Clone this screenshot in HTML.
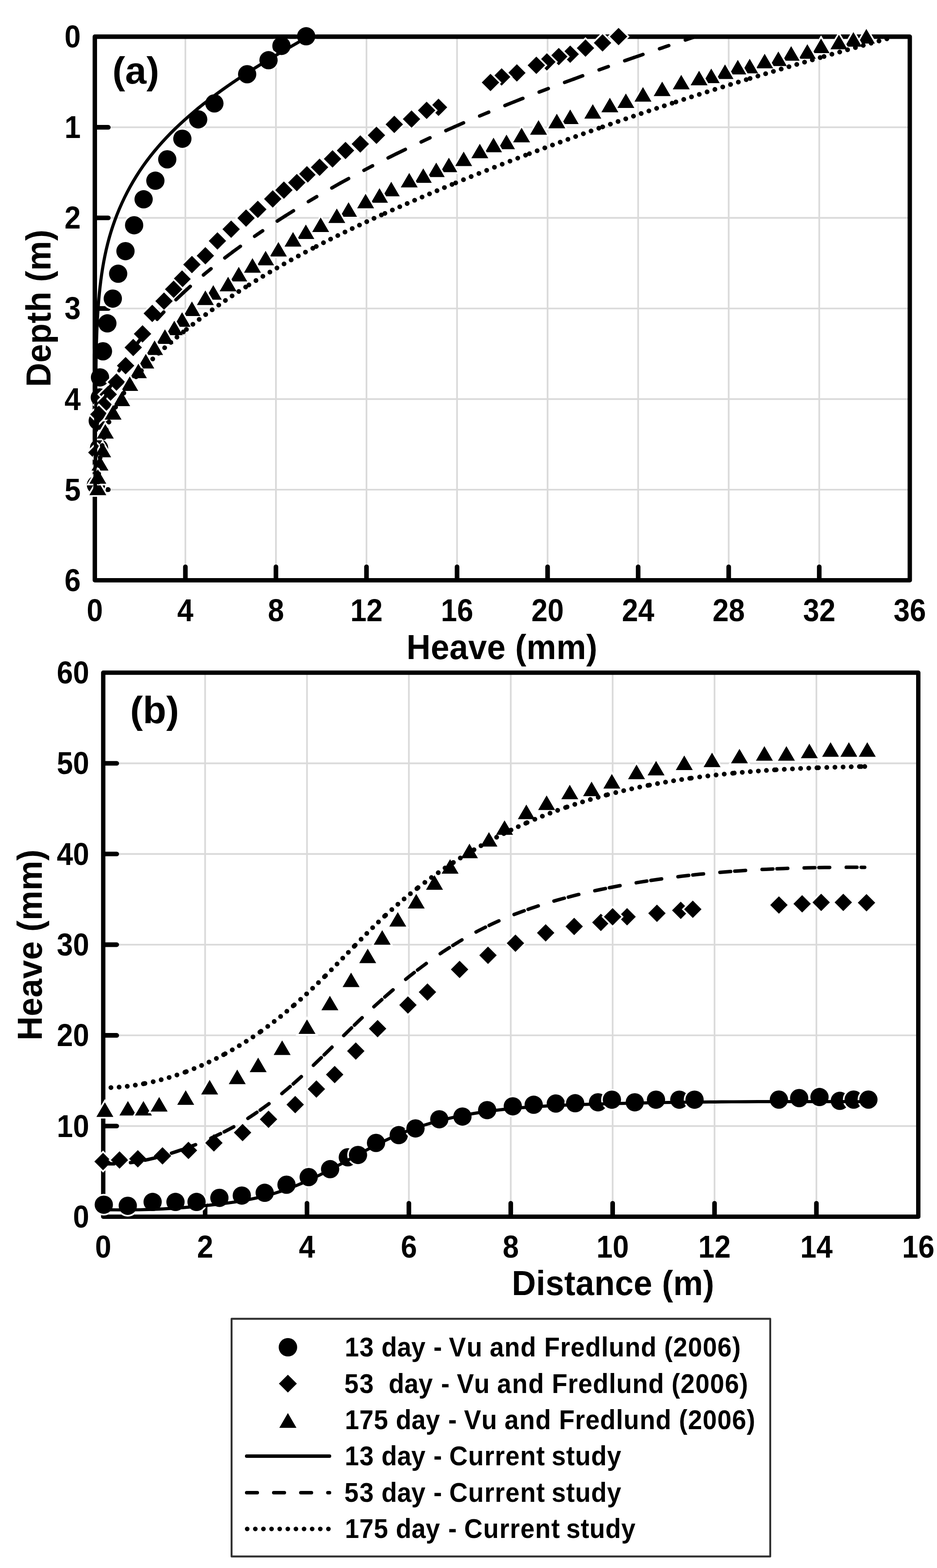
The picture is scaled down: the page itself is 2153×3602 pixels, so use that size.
<!DOCTYPE html>
<html lang="en"><head><meta charset="utf-8"><title>Heave profiles</title>
<style>html,body{margin:0;padding:0;background:#fff;}body{width:2153px;height:3602px;overflow:hidden;}svg{display:block;}text{font-family:"Liberation Sans", sans-serif;font-weight:700;fill:#000;font-kerning:none;}.tk{font-size:66.9px;}.ti{font-size:76.7px;letter-spacing:0.45px;}.pl{font-size:88px;}.lg{font-size:58.6px;}.mk{fill:#000;stroke:#fff;stroke-width:7.6;stroke-linejoin:miter;paint-order:stroke fill;}.ln{fill:none;stroke:#000;stroke-linecap:round;stroke-linejoin:round;}</style></head><body>
<svg width="2153" height="3602" viewBox="0 0 2153 3602">
<rect x="0" y="0" width="2153" height="3602" fill="#fff"/>
<g id="plot-a">
<g id="grid-a">
<g stroke="#dadada" stroke-width="3.9" fill="none">
<line x1="425.97" y1="84.3" x2="425.97" y2="1333"/>
<line x1="634.03" y1="84.3" x2="634.03" y2="1333"/>
<line x1="842.1" y1="84.3" x2="842.1" y2="1333"/>
<line x1="1050.17" y1="84.3" x2="1050.17" y2="1333"/>
<line x1="1258.23" y1="84.3" x2="1258.23" y2="1333"/>
<line x1="1466.3" y1="84.3" x2="1466.3" y2="1333"/>
<line x1="1674.37" y1="84.3" x2="1674.37" y2="1333"/>
<line x1="1882.43" y1="84.3" x2="1882.43" y2="1333"/>
<line x1="217.9" y1="292.42" x2="2090.5" y2="292.42"/>
<line x1="217.9" y1="500.53" x2="2090.5" y2="500.53"/>
<line x1="217.9" y1="708.65" x2="2090.5" y2="708.65"/>
<line x1="217.9" y1="916.77" x2="2090.5" y2="916.77"/>
<line x1="217.9" y1="1124.88" x2="2090.5" y2="1124.88"/>
</g>
</g>
<g stroke="#000" fill="none" stroke-linecap="round">
<line x1="425.97" y1="1331" x2="425.97" y2="1302" stroke-width="10.6"/>
<line x1="634.03" y1="1331" x2="634.03" y2="1302" stroke-width="10.6"/>
<line x1="842.1" y1="1331" x2="842.1" y2="1302" stroke-width="10.6"/>
<line x1="1050.17" y1="1331" x2="1050.17" y2="1302" stroke-width="10.6"/>
<line x1="1258.23" y1="1331" x2="1258.23" y2="1302" stroke-width="10.6"/>
<line x1="1466.3" y1="1331" x2="1466.3" y2="1302" stroke-width="10.6"/>
<line x1="1674.37" y1="1331" x2="1674.37" y2="1302" stroke-width="10.6"/>
<line x1="1882.43" y1="1331" x2="1882.43" y2="1302" stroke-width="10.6"/>
<line x1="219.9" y1="292.42" x2="248.9" y2="292.42" stroke-width="10.6"/>
<line x1="219.9" y1="500.53" x2="248.9" y2="500.53" stroke-width="10.6"/>
<line x1="219.9" y1="708.65" x2="248.9" y2="708.65" stroke-width="10.6"/>
<line x1="219.9" y1="916.77" x2="248.9" y2="916.77" stroke-width="10.6"/>
<line x1="219.9" y1="1124.88" x2="248.9" y2="1124.88" stroke-width="10.6"/>
<rect x="217.9" y="84.3" width="1872.6" height="1248.7" stroke-width="10" stroke-linejoin="round"/>
</g>
<g class="mk">
<circle cx="703.5" cy="83.3" r="21"/>
<circle cx="646.7" cy="105.4" r="21"/>
<circle cx="617" cy="138.3" r="21"/>
<circle cx="567.9" cy="170.5" r="21"/>
<circle cx="492.6" cy="237.5" r="21"/>
<circle cx="455.4" cy="274.2" r="21"/>
<circle cx="419" cy="318.7" r="21"/>
<circle cx="384.3" cy="366" r="21"/>
<circle cx="357" cy="415.1" r="21"/>
<circle cx="330" cy="457.8" r="21"/>
<circle cx="308.2" cy="517.4" r="21"/>
<circle cx="288.3" cy="576.9" r="21"/>
<circle cx="271.5" cy="628.8" r="21"/>
<circle cx="259.2" cy="685.9" r="21"/>
<circle cx="246.7" cy="742.8" r="21"/>
<circle cx="236.6" cy="807" r="21"/>
<circle cx="229.8" cy="866.9" r="21"/>
<circle cx="229.4" cy="913" r="21"/>
<circle cx="224.6" cy="966.7" r="21"/>
<circle cx="227.6" cy="1029.4" r="21"/>
<circle cx="220.5" cy="1114" r="21"/>
</g>
<path d="M217.9 1333V84.3H2090.5" fill="none" stroke="#000" stroke-width="10" stroke-linejoin="round"/>
<g class="mk">
<path d="M1421.3 64 L1441.3 84 L1421.3 104 L1401.3 84Z"/>
<path d="M1384.5 78.4 L1404.5 98.4 L1384.5 118.4 L1364.5 98.4Z"/>
<path d="M1345.3 90.6 L1365.3 110.6 L1345.3 130.6 L1325.3 110.6Z"/>
<path d="M1310.2 104.6 L1330.2 124.6 L1310.2 144.6 L1290.2 124.6Z"/>
<path d="M1283.9 109.9 L1303.9 129.9 L1283.9 149.9 L1263.9 129.9Z"/>
<path d="M1256.6 122.2 L1276.6 142.2 L1256.6 162.2 L1236.6 142.2Z"/>
<path d="M1232.4 129.9 L1252.4 149.9 L1232.4 169.9 L1212.4 149.9Z"/>
<path d="M1187.6 147.4 L1207.6 167.4 L1187.6 187.4 L1167.6 167.4Z"/>
<path d="M1152.6 156.8 L1172.6 176.8 L1152.6 196.8 L1132.6 176.8Z"/>
<path d="M1127 169.5 L1147 189.5 L1127 209.5 L1107 189.5Z"/>
<path d="M1007.6 226.6 L1027.6 246.6 L1007.6 266.6 L987.6 246.6Z"/>
<path d="M980.3 233.6 L1000.3 253.6 L980.3 273.6 L960.3 253.6Z"/>
<path d="M945.6 253.6 L965.6 273.6 L945.6 293.6 L925.6 273.6Z"/>
<path d="M906 265.8 L926 285.8 L906 305.8 L886 285.8Z"/>
<path d="M865 290.7 L885 310.7 L865 330.7 L845 310.7Z"/>
<path d="M827.9 310.7 L847.9 330.7 L827.9 350.7 L807.9 330.7Z"/>
<path d="M793.9 325.7 L813.9 345.7 L793.9 365.7 L773.9 345.7Z"/>
<path d="M764.1 345 L784.1 365 L764.1 385 L744.1 365Z"/>
<path d="M734.3 364.3 L754.3 384.3 L734.3 404.3 L714.3 384.3Z"/>
<path d="M705.2 381.4 L725.2 401.4 L705.2 421.4 L685.2 401.4Z"/>
<path d="M682 399.5 L702 419.5 L682 439.5 L662 419.5Z"/>
<path d="M652.3 416.8 L672.3 436.8 L652.3 456.8 L632.3 436.8Z"/>
<path d="M626.7 437.1 L646.7 457.1 L626.7 477.1 L606.7 457.1Z"/>
<path d="M592.4 460.9 L612.4 480.9 L592.4 500.9 L572.4 480.9Z"/>
<path d="M565.4 480.9 L585.4 500.9 L565.4 520.9 L545.4 500.9Z"/>
<path d="M531.1 506.5 L551.1 526.5 L531.1 546.5 L511.1 526.5Z"/>
<path d="M499.6 533.4 L519.6 553.4 L499.6 573.4 L479.6 553.4Z"/>
<path d="M471.9 567.4 L491.9 587.4 L471.9 607.4 L451.9 587.4Z"/>
<path d="M441 587.8 L461 607.8 L441 627.8 L421 607.8Z"/>
<path d="M418.3 621 L438.3 641 L418.3 661 L398.3 641Z"/>
<path d="M399 644.5 L419 664.5 L399 684.5 L379 664.5Z"/>
<path d="M376.9 671.8 L396.9 691.8 L376.9 711.8 L356.9 691.8Z"/>
<path d="M349.9 700 L369.9 720 L349.9 740 L329.9 720Z"/>
<path d="M327.5 747 L347.5 767 L327.5 787 L307.5 767Z"/>
<path d="M306.1 778.2 L326.1 798.2 L306.1 818.2 L286.1 798.2Z"/>
<path d="M288.6 819.9 L308.6 839.9 L288.6 859.9 L268.6 839.9Z"/>
<path d="M267.6 857.7 L287.6 877.7 L267.6 897.7 L247.6 877.7Z"/>
<path d="M248.7 886 L268.7 906 L248.7 926 L228.7 906Z"/>
<path d="M238 910.2 L258 930.2 L238 950.2 L218 930.2Z"/>
<path d="M227.2 931.8 L247.2 951.8 L227.2 971.8 L207.2 951.8Z"/>
<path d="M222.5 1019.5 L242.5 1039.5 L222.5 1059.5 L202.5 1039.5Z"/>
<path d="M1990.7 66.5 L2010.2 99.9 L1971.2 99.9Z"/>
<path d="M1960.9 73.8 L1980.4 107.2 L1941.4 107.2Z"/>
<path d="M1927.6 79.8 L1947.1 113.2 L1908.1 113.2Z"/>
<path d="M1886.6 88.5 L1906.1 121.9 L1867.1 121.9Z"/>
<path d="M1855.1 101.5 L1874.6 134.9 L1835.6 134.9Z"/>
<path d="M1817.9 106.1 L1837.4 139.5 L1798.4 139.5Z"/>
<path d="M1788.5 118.3 L1808 151.7 L1769 151.7Z"/>
<path d="M1757 123.6 L1776.5 157 L1737.5 157Z"/>
<path d="M1722.6 135.1 L1742.1 168.5 L1703.1 168.5Z"/>
<path d="M1695.3 137.6 L1714.8 171 L1675.8 171Z"/>
<path d="M1665.9 148.1 L1685.4 181.5 L1646.4 181.5Z"/>
<path d="M1634.3 157.6 L1653.8 191 L1614.8 191Z"/>
<path d="M1606.3 162.5 L1625.8 195.9 L1586.8 195.9Z"/>
<path d="M1565.3 171.9 L1584.8 205.3 L1545.8 205.3Z"/>
<path d="M1521.5 187.4 L1541 220.8 L1502 220.8Z"/>
<path d="M1477.4 200 L1496.9 233.4 L1457.9 233.4Z"/>
<path d="M1438.1 214.7 L1457.6 248.1 L1418.6 248.1Z"/>
<path d="M1401.3 224.5 L1420.8 257.9 L1381.8 257.9Z"/>
<path d="M1362.1 239.2 L1381.6 272.6 L1342.6 272.6Z"/>
<path d="M1310.2 251.5 L1329.7 284.9 L1290.7 284.9Z"/>
<path d="M1279.4 261.3 L1298.9 294.7 L1259.9 294.7Z"/>
<path d="M1237.4 276 L1256.9 309.4 L1217.9 309.4Z"/>
<path d="M1198.5 293.5 L1218 326.9 L1179 326.9Z"/>
<path d="M1163.8 309.3 L1183.3 342.7 L1144.3 342.7Z"/>
<path d="M1134 316.3 L1153.5 349.7 L1114.5 349.7Z"/>
<path d="M1102.5 330.2 L1122 363.6 L1083 363.6Z"/>
<path d="M1065.4 348.2 L1084.9 381.6 L1045.9 381.6Z"/>
<path d="M1031.4 362.2 L1050.9 395.6 L1011.9 395.6Z"/>
<path d="M1002.4 373.4 L1021.9 406.8 L982.9 406.8Z"/>
<path d="M972.6 386.7 L992.1 420.1 L953.1 420.1Z"/>
<path d="M940.3 397.2 L959.8 430.6 L920.8 430.6Z"/>
<path d="M899 417.6 L918.5 451 L879.5 451Z"/>
<path d="M872 432.3 L891.5 465.7 L852.5 465.7Z"/>
<path d="M840.1 445.2 L859.6 478.6 L820.6 478.6Z"/>
<path d="M800.9 464.5 L820.4 497.9 L781.4 497.9Z"/>
<path d="M773.9 478.9 L793.4 512.3 L754.4 512.3Z"/>
<path d="M736.8 499.5 L756.3 532.9 L717.3 532.9Z"/>
<path d="M702.8 515.7 L722.3 549.1 L683.3 549.1Z"/>
<path d="M673.3 533.1 L692.8 566.5 L653.8 566.5Z"/>
<path d="M639.7 555.9 L659.2 589.3 L620.2 589.3Z"/>
<path d="M610.3 576.2 L629.8 609.6 L590.8 609.6Z"/>
<path d="M580.1 593 L599.6 626.4 L560.6 626.4Z"/>
<path d="M548.6 613 L568.1 646.4 L529.1 646.4Z"/>
<path d="M524.1 635.8 L543.6 669.2 L504.6 669.2Z"/>
<path d="M490.1 655 L509.6 688.4 L470.6 688.4Z"/>
<path d="M471.9 667.3 L491.4 700.7 L452.4 700.7Z"/>
<path d="M441 692.5 L460.5 725.9 L421.5 725.9Z"/>
<path d="M418.4 717.3 L437.9 750.7 L398.9 750.7Z"/>
<path d="M400.5 736.7 L420 770.1 L381 770.1Z"/>
<path d="M379 756.5 L398.5 789.9 L359.5 789.9Z"/>
<path d="M355.2 782 L374.7 815.4 L335.7 815.4Z"/>
<path d="M335 813 L354.5 846.4 L315.5 846.4Z"/>
<path d="M318 835.4 L337.5 868.8 L298.5 868.8Z"/>
<path d="M298.1 864.7 L317.6 898.1 L278.6 898.1Z"/>
<path d="M279.6 899.6 L299.1 933 L260.1 933Z"/>
<path d="M259.8 930.6 L279.3 964 L240.3 964Z"/>
<path d="M242 974.2 L261.5 1007.6 L222.5 1007.6Z"/>
<path d="M235.9 1017.2 L255.4 1050.6 L216.4 1050.6Z"/>
<path d="M229.8 1047.6 L249.3 1081 L210.3 1081Z"/>
<path d="M224.8 1104 L244.3 1137.4 L205.3 1137.4Z"/>
<path d="M224.8 1077.9 L244.3 1111.3 L205.3 1111.3Z"/>
</g>
<path class="ln" stroke-width="7.2" d="M703.5 87 C699.43 89.3 687.2 96.15 679.06 100.79 C670.92 105.42 662.77 110.08 654.64 114.8 C646.51 119.51 638.39 124.27 630.29 129.08 C622.19 133.89 614.11 138.75 606.06 143.67 C598.01 148.59 589.99 153.57 582 158.62 C574.02 163.67 566.06 168.77 558.16 173.96 C550.26 179.15 542.39 184.41 534.58 189.75 C526.78 195.09 519.01 200.51 511.32 206.02 C503.63 211.53 495.98 217.12 488.42 222.82 C480.86 228.51 473.35 234.29 465.94 240.19 C458.54 246.08 451.2 252.06 443.99 258.16 C436.77 264.27 429.64 270.47 422.65 276.8 C415.66 283.13 408.77 289.56 402.04 296.13 C395.3 302.7 388.69 309.38 382.24 316.2 C375.8 323.03 369.49 329.97 363.37 337.06 C357.25 344.15 351.29 351.37 345.52 358.74 C339.76 366.12 334.17 373.63 328.8 381.3 C323.43 388.96 318.25 396.78 313.29 404.73 C308.32 412.69 303.56 420.79 299.02 429 C294.48 437.21 290.14 445.57 286.02 454.02 C281.91 462.47 278.01 471.04 274.33 479.71 C270.65 488.37 267.19 497.14 263.96 505.99 C260.73 514.84 257.72 523.79 254.94 532.8 C252.16 541.81 249.63 550.91 247.3 560.05 C244.97 569.2 242.89 578.42 240.98 587.67 C239.07 596.93 237.38 606.25 235.84 615.59 C234.29 624.93 232.95 634.32 231.73 643.72 C230.5 653.11 229.45 662.55 228.5 671.98 C227.55 681.42 226.74 690.87 226.01 700.31 C225.28 709.76 224.66 719.2 224.11 728.63 C223.56 738.07 223.1 747.49 222.69 756.91 C222.29 766.33 221.97 775.74 221.68 785.15 C221.4 794.56 221.19 803.96 221 813.36 C220.82 822.77 220.69 832.16 220.57 841.56 C220.46 850.95 220.39 860.34 220.32 869.73 C220.25 879.13 220.22 888.52 220.17 897.91 C220.12 907.3 220.09 916.69 220.04 926.08 C219.99 935.47 219.94 944.87 219.87 954.27 C219.8 963.66 219.7 973.06 219.6 982.47 C219.5 991.87 219.38 1001.28 219.26 1010.69 C219.14 1020.11 219.01 1029.53 218.89 1038.95 C218.77 1048.38 218.64 1057.81 218.53 1067.25 C218.42 1076.69 218.31 1086.14 218.22 1095.6 C218.13 1105.06 218.04 1119.27 218 1124"/>
<path class="ln" stroke-width="8" stroke-dasharray="44.2 40.3 22.4 40.3" stroke-dashoffset="20.26" d="M1597.5 84.3 C1592.79 85.87 1578.69 90.6 1569.28 93.77 C1559.87 96.94 1550.46 100.12 1541.05 103.31 C1531.64 106.49 1522.24 109.69 1512.83 112.9 C1503.42 116.11 1494.01 119.33 1484.61 122.57 C1475.2 125.8 1461.1 130.69 1456.4 132.31"/>
<path class="ln" stroke-width="8" stroke-dasharray="44.1 40.21 22.35 40.21" stroke-dashoffset="22.05" d="M1456.4 132.31 C1451.78 133.92 1437.92 138.74 1428.68 141.98 C1419.45 145.22 1410.22 148.47 1400.99 151.74 C1391.76 155.01 1382.54 158.3 1373.32 161.61 C1364.1 164.91 1354.89 168.24 1345.68 171.58 C1336.48 174.92 1322.69 179.99 1318.09 181.67"/>
<path class="ln" stroke-width="8" stroke-dasharray="44.12 40.22 22.36 40.22" stroke-dashoffset="22.06" d="M1318.09 181.67 C1313.49 183.37 1299.71 188.46 1290.53 191.88 C1281.36 195.31 1272.19 198.76 1263.03 202.23 C1253.87 205.7 1244.72 209.2 1235.58 212.72 C1226.44 216.24 1217.31 219.79 1208.19 223.36 C1199.07 226.93 1185.42 232.35 1180.87 234.15"/>
<path class="ln" stroke-width="8" stroke-dasharray="44.31 40.4 22.45 40.4" stroke-dashoffset="22.15" d="M1180.87 234.15 C1176.3 235.99 1162.59 241.47 1153.48 245.17 C1144.36 248.87 1135.25 252.6 1126.16 256.36 C1117.07 260.12 1107.99 263.91 1098.93 267.74 C1089.87 271.56 1080.82 275.41 1071.79 279.3 C1062.75 283.19 1049.25 289.11 1044.74 291.07"/>
<path class="ln" stroke-width="8" stroke-dasharray="44.1 40.21 22.35 40.21" stroke-dashoffset="22.05" d="M1044.74 291.07 C1040.26 293.05 1026.81 298.98 1017.88 303 C1008.94 307.01 1000.02 311.06 991.12 315.14 C982.22 319.23 973.34 323.35 964.48 327.51 C955.62 331.67 946.77 335.87 937.95 340.11 C929.12 344.35 915.94 350.8 911.54 352.94"/>
<path class="ln" stroke-width="8" stroke-dasharray="44 40.12 22.3 40.12" stroke-dashoffset="22" d="M911.54 352.94 C907.17 355.12 894.02 361.6 885.3 366 C876.57 370.4 867.87 374.83 859.19 379.31 C850.51 383.79 841.85 388.32 833.22 392.88 C824.59 397.45 815.97 402.07 807.39 406.73 C798.8 411.39 785.99 418.49 781.71 420.85"/>
<path class="ln" stroke-width="8" stroke-dasharray="44.04 40.16 22.32 40.16" stroke-dashoffset="22.02" d="M781.71 420.85 C777.45 423.25 764.66 430.4 756.18 435.25 C747.69 440.1 739.23 445 730.8 449.95 C722.37 454.9 713.97 459.9 705.6 464.95 C697.22 470 688.87 475.1 680.56 480.25 C672.24 485.41 659.84 493.27 655.69 495.88"/>
<path class="ln" stroke-width="8" stroke-dasharray="44.2 40.3 22.4 40.3" stroke-dashoffset="22.1" d="M655.69 495.88 C651.58 498.54 639.2 506.46 631.01 511.83 C622.81 517.2 614.64 522.63 606.51 528.11 C598.37 533.6 590.26 539.13 582.2 544.74 C574.13 550.34 566.09 555.99 558.11 561.72 C550.12 567.44 538.25 576.19 534.28 579.09"/>
<path class="ln" stroke-width="8" stroke-dasharray="44.31 40.4 22.46 40.4" stroke-dashoffset="22.16" d="M534.28 579.09 C530.35 582.06 518.5 590.91 510.7 596.93 C502.9 602.95 495.15 609.04 487.48 615.22 C479.82 621.39 472.21 627.64 464.69 633.98 C457.17 640.32 449.72 646.73 442.37 653.24 C435.02 659.75 424.21 669.73 420.58 673.03"/>
<path class="ln" stroke-width="8" stroke-dasharray="44.2 40.3 22.4 40.3" stroke-dashoffset="22.1" d="M420.58 673.03 C417.13 676.33 406.69 686.15 399.89 692.85 C393.1 699.54 386.39 706.33 379.8 713.22 C373.21 720.1 366.72 727.08 360.35 734.17 C353.98 741.25 347.72 748.43 341.6 755.73 C335.49 763.02 329.49 770.41 323.64 777.92 C317.8 785.42 312.09 793.03 306.55 800.76 C301.01 808.49 295.62 816.33 290.41 824.3 C285.2 832.26 280.17 840.34 275.3 848.54 C270.43 856.74 265.81 865.07 261.2 873.51 C256.59 881.95 251.85 890.51 247.64 899.18 C243.42 907.84 239.23 916.62 235.89 925.49 C232.56 934.37 229.86 943.35 227.64 952.42 C225.41 961.48 223.82 970.65 222.56 979.9 C221.3 989.14 220.62 998.48 220.09 1007.89 C219.57 1017.3 219.5 1026.79 219.4 1036.34 C219.31 1045.89 219.51 1055.53 219.54 1065.21 C219.56 1074.89 219.73 1084.65 219.55 1094.45 C219.38 1104.25 218.68 1119.08 218.5 1124.01"/>
<path class="ln" stroke-width="11" stroke-dasharray="0.01 18.74 0.01 18.74 0.01 18.74 0.01 18.74 0.01 18.74 0.01 18.74 0.01 18.74 0.01 18.74 0.01 18.74 0.01 9.24" stroke-dashoffset="0.39" d="M2055.5 84.3 C2050.87 85.57 2036.97 89.37 2027.7 91.92 C2018.44 94.48 2009.18 97.04 1999.92 99.61 C1990.66 102.19 1981.41 104.77 1972.15 107.37 C1962.9 109.96 1953.65 112.57 1944.4 115.19 C1935.16 117.8 1925.91 120.43 1916.67 123.07 C1907.43 125.71 1893.57 129.7 1888.96 131.03"/>
<path class="ln" stroke-width="11" stroke-dasharray="0.01 18.66 0.01 18.66 0.01 18.66 0.01 18.66 0.01 18.66 0.01 18.66 0.01 18.66 0.01 18.66 0.01 18.66 0.01 9.2" stroke-dashoffset="172.66" d="M1888.96 131.03 C1884.23 132.4 1870.03 136.5 1860.58 139.26 C1851.12 142.01 1841.67 144.78 1832.22 147.56 C1822.78 150.34 1813.33 153.13 1803.89 155.94 C1794.45 158.75 1785.02 161.57 1775.58 164.4 C1766.15 167.24 1756.72 170.08 1747.3 172.94 C1737.87 175.81 1723.75 180.13 1719.04 181.57"/>
<path class="ln" stroke-width="11" stroke-dasharray="0.01 18.82 0.01 18.82 0.01 18.82 0.01 18.82 0.01 18.82 0.01 18.82 0.01 18.82 0.01 18.82 0.01 18.82 0.01 9.28" stroke-dashoffset="174.13" d="M1719.04 181.57 C1714.29 183.04 1700.05 187.42 1690.57 190.36 C1681.08 193.3 1671.6 196.26 1662.12 199.24 C1652.65 202.21 1643.17 205.2 1633.71 208.2 C1624.24 211.21 1614.78 214.23 1605.32 217.26 C1595.87 220.3 1586.41 223.35 1576.97 226.42 C1567.52 229.48 1553.37 234.13 1548.65 235.67"/>
<path class="ln" stroke-width="11" stroke-dasharray="0.01 18.71 0.01 18.71 0.01 18.71 0.01 18.71 0.01 18.71 0.01 18.71 0.01 18.71 0.01 18.71 0.01 18.71 0.01 9.23" stroke-dashoffset="173.13" d="M1548.65 235.67 C1543.96 237.22 1529.89 241.85 1520.51 244.96 C1511.14 248.08 1501.78 251.21 1492.42 254.36 C1483.06 257.51 1473.7 260.67 1464.35 263.86 C1455.01 267.04 1445.66 270.24 1436.33 273.46 C1426.99 276.67 1417.66 279.91 1408.34 283.16 C1399.01 286.41 1385.04 291.34 1380.38 292.97"/>
<path class="ln" stroke-width="11" stroke-dasharray="0.01 18.87 0.01 18.87 0.01 18.87 0.01 18.87 0.01 18.87 0.01 18.87 0.01 18.87 0.01 18.87 0.01 18.87 0.01 9.3" stroke-dashoffset="174.57" d="M1380.38 292.97 C1375.69 294.64 1361.61 299.62 1352.24 302.97 C1342.86 306.33 1333.49 309.7 1324.13 313.09 C1314.76 316.48 1305.41 319.89 1296.06 323.32 C1286.71 326.75 1277.37 330.2 1268.04 333.66 C1258.7 337.13 1249.38 340.62 1240.06 344.13 C1230.74 347.63 1216.78 352.95 1212.12 354.71"/>
<path class="ln" stroke-width="11" stroke-dasharray="0.01 19.19 0.01 19.19 0.01 19.19 0.01 19.19 0.01 19.19 0.01 19.19 0.01 19.19 0.01 19.19 0.01 19.19 0.01 9.46" stroke-dashoffset="177.51" d="M1212.12 354.71 C1208.07 356.26 1195.91 360.91 1187.81 364.03 C1179.72 367.15 1171.63 370.29 1163.54 373.45 C1155.46 376.6 1147.38 379.77 1139.3 382.96 C1131.23 386.14 1123.17 389.34 1115.11 392.56 C1107.05 395.78 1098.99 399.01 1090.94 402.26 C1082.9 405.52 1074.86 408.78 1066.82 412.07 C1058.79 415.35 1046.75 420.32 1042.74 421.97"/>
<path class="ln" stroke-width="11" stroke-dasharray="0.01 18.62 0.01 18.62 0.01 18.62 0.01 18.62 0.01 18.62 0.01 18.62 0.01 18.62 0.01 18.62 0.01 18.62 0.01 9.18" stroke-dashoffset="172.23" d="M1042.74 421.97 C1038.2 423.86 1024.59 429.5 1015.53 433.29 C1006.48 437.09 997.43 440.91 988.38 444.75 C979.34 448.59 970.31 452.45 961.29 456.34 C952.26 460.23 943.25 464.13 934.24 468.06 C925.24 472 916.25 475.95 907.27 479.94 C898.29 483.93 884.85 489.98 880.37 491.99"/>
<path class="ln" stroke-width="11" stroke-dasharray="0.01 18.44 0.01 18.44 0.01 18.44 0.01 18.44 0.01 18.44 0.01 18.44 0.01 18.44 0.01 18.44 0.01 18.44 0.01 9.09" stroke-dashoffset="170.63" d="M880.37 491.99 C875.94 494.01 862.63 500.04 853.79 504.12 C844.94 508.2 836.11 512.31 827.31 516.45 C818.5 520.6 809.71 524.79 800.94 529.01 C792.18 533.24 783.43 537.5 774.71 541.82 C765.98 546.13 757.28 550.48 748.61 554.88 C739.94 559.28 726.99 566 722.67 568.22"/>
<path class="ln" stroke-width="11" stroke-dasharray="0.01 18.76 0.01 18.76 0.01 18.76 0.01 18.76 0.01 18.76 0.01 18.76 0.01 18.76 0.01 18.76 0.01 18.76 0.01 9.25" stroke-dashoffset="173.55" d="M722.67 568.22 C718.29 570.54 705.13 577.43 696.41 582.12 C687.69 586.81 679 591.55 670.35 596.35 C661.69 601.15 653.07 606 644.48 610.92 C635.89 615.84 627.34 620.82 618.83 625.87 C610.31 630.92 601.83 636.03 593.4 641.21 C584.96 646.39 572.41 654.33 568.21 656.95"/>
<path class="ln" stroke-width="11" stroke-dasharray="0.01 18.57 0.01 18.57 0.01 18.57 0.01 18.57 0.01 18.57 0.01 18.57 0.01 18.57 0.01 18.57 0.01 18.57 0.01 9.16" stroke-dashoffset="171.8" d="M568.21 656.95 C564.11 659.61 551.77 667.51 543.62 672.89 C535.47 678.28 527.36 683.74 519.29 689.28 C511.23 694.81 503.21 700.42 495.24 706.11 C487.27 711.8 479.34 717.57 471.47 723.42 C463.6 729.27 455.77 735.2 448 741.22 C440.23 747.24 428.7 756.49 424.84 759.54"/>
<path class="ln" stroke-width="11" stroke-dasharray="0.01 18.74 0.01 18.74 0.01 18.74 0.01 18.74 0.01 18.74 0.01 18.74 0.01 18.74 0.01 18.74 0.01 18.74 0.01 9.24" stroke-dashoffset="173.37" d="M424.84 759.54 C421.22 762.52 410.31 771.38 403.14 777.43 C395.96 783.48 388.81 789.6 381.78 795.83 C374.76 802.06 367.78 808.37 360.98 814.8 C354.17 821.23 347.46 827.76 340.96 834.42 C334.45 841.08 328.08 847.85 321.95 854.76 C315.83 861.68 309.87 868.71 304.2 875.9 C298.53 883.09 293.06 890.42 287.93 897.91 C282.79 905.41 277.89 913.05 273.36 920.87 C268.83 928.69 264.61 936.68 260.75 944.84 C256.88 953 253.37 961.35 250.18 969.84 C247 978.34 244.15 987.01 241.62 995.82 C239.09 1004.62 236.89 1013.59 234.99 1022.69 C233.09 1031.79 231.51 1041.03 230.22 1050.39 C228.93 1059.75 227.95 1069.25 227.25 1078.86 C226.55 1088.46 226.21 1103.15 226.01 1108.01"/>
<path class="ln" stroke-width="11" d="M248.4 1124.4h0.01"/>
<g class="tk">
<text transform="translate(217.9 1427.3) scale(1 1.075)" text-anchor="middle">0</text>
<text transform="translate(425.97 1427.3) scale(1 1.075)" text-anchor="middle">4</text>
<text transform="translate(634.03 1427.3) scale(1 1.075)" text-anchor="middle">8</text>
<text transform="translate(842.1 1427.3) scale(1 1.075)" text-anchor="middle">12</text>
<text transform="translate(1050.17 1427.3) scale(1 1.075)" text-anchor="middle">16</text>
<text transform="translate(1258.23 1427.3) scale(1 1.075)" text-anchor="middle">20</text>
<text transform="translate(1466.3 1427.3) scale(1 1.075)" text-anchor="middle">24</text>
<text transform="translate(1674.37 1427.3) scale(1 1.075)" text-anchor="middle">28</text>
<text transform="translate(1882.43 1427.3) scale(1 1.075)" text-anchor="middle">32</text>
<text transform="translate(2090.5 1427.3) scale(1 1.075)" text-anchor="middle">36</text>
<text transform="translate(185.5 109.1) scale(1 1.075)" text-anchor="end">0</text>
<text transform="translate(185.5 317.22) scale(1 1.075)" text-anchor="end">1</text>
<text transform="translate(185.5 525.33) scale(1 1.075)" text-anchor="end">2</text>
<text transform="translate(185.5 733.45) scale(1 1.075)" text-anchor="end">3</text>
<text transform="translate(185.5 941.57) scale(1 1.075)" text-anchor="end">4</text>
<text transform="translate(185.5 1149.68) scale(1 1.075)" text-anchor="end">5</text>
<text transform="translate(185.5 1357.8) scale(1 1.075)" text-anchor="end">6</text>
</g>
<text class="pl" x="258.3" y="191.5">(a)</text>
<text class="ti" text-anchor="middle" transform="translate(115.8 708) rotate(-90) scale(1 1.05)">Depth (m)</text>
<text class="ti" text-anchor="middle" transform="translate(1153.5 1514.2) scale(1 1.05)">Heave (mm)</text>
<g id="plot-b">
<g id="grid-b">
<g stroke="#dadada" stroke-width="3.9" fill="none">
<line x1="471.3" y1="1545.2" x2="471.3" y2="2795"/>
<line x1="705.4" y1="1545.2" x2="705.4" y2="2795"/>
<line x1="939.5" y1="1545.2" x2="939.5" y2="2795"/>
<line x1="1173.6" y1="1545.2" x2="1173.6" y2="2795"/>
<line x1="1407.7" y1="1545.2" x2="1407.7" y2="2795"/>
<line x1="1641.8" y1="1545.2" x2="1641.8" y2="2795"/>
<line x1="1875.9" y1="1545.2" x2="1875.9" y2="2795"/>
<line x1="237.2" y1="2586.7" x2="2110" y2="2586.7"/>
<line x1="237.2" y1="2378.4" x2="2110" y2="2378.4"/>
<line x1="237.2" y1="2170.1" x2="2110" y2="2170.1"/>
<line x1="237.2" y1="1961.8" x2="2110" y2="1961.8"/>
<line x1="237.2" y1="1753.5" x2="2110" y2="1753.5"/>
</g>
</g>
<g stroke="#000" fill="none" stroke-linecap="round">
<line x1="471.3" y1="2793" x2="471.3" y2="2764" stroke-width="10.6"/>
<line x1="705.4" y1="2793" x2="705.4" y2="2764" stroke-width="10.6"/>
<line x1="939.5" y1="2793" x2="939.5" y2="2764" stroke-width="10.6"/>
<line x1="1173.6" y1="2793" x2="1173.6" y2="2764" stroke-width="10.6"/>
<line x1="1407.7" y1="2793" x2="1407.7" y2="2764" stroke-width="10.6"/>
<line x1="1641.8" y1="2793" x2="1641.8" y2="2764" stroke-width="10.6"/>
<line x1="1875.9" y1="2793" x2="1875.9" y2="2764" stroke-width="10.6"/>
<line x1="239.2" y1="2586.7" x2="268.2" y2="2586.7" stroke-width="10.6"/>
<line x1="239.2" y1="2378.4" x2="268.2" y2="2378.4" stroke-width="10.6"/>
<line x1="239.2" y1="2170.1" x2="268.2" y2="2170.1" stroke-width="10.6"/>
<line x1="239.2" y1="1961.8" x2="268.2" y2="1961.8" stroke-width="10.6"/>
<line x1="239.2" y1="1753.5" x2="268.2" y2="1753.5" stroke-width="10.6"/>
<rect x="237.2" y="1545.2" width="1872.8" height="1249.8" stroke-width="10" stroke-linejoin="round"/>
</g>
<g class="mk">
<circle cx="238.5" cy="2767.4" r="21"/>
<circle cx="293.6" cy="2769.9" r="21"/>
<circle cx="350.7" cy="2761.1" r="21"/>
<circle cx="403.2" cy="2761.1" r="21"/>
<circle cx="451.6" cy="2761.1" r="21"/>
<circle cx="504.1" cy="2751.7" r="21"/>
<circle cx="555.6" cy="2746.4" r="21"/>
<circle cx="608.2" cy="2740.1" r="21"/>
<circle cx="658.3" cy="2721.5" r="21"/>
<circle cx="709.3" cy="2704" r="21"/>
<circle cx="758.5" cy="2685.8" r="21"/>
<circle cx="799.2" cy="2658.5" r="21"/>
<circle cx="822.6" cy="2653.2" r="21"/>
<circle cx="864" cy="2625.5" r="21"/>
<circle cx="916.2" cy="2607.6" r="21"/>
<circle cx="954.7" cy="2592.2" r="21"/>
<circle cx="1009.4" cy="2571.2" r="21"/>
<circle cx="1062.6" cy="2564.9" r="21"/>
<circle cx="1119.4" cy="2550.2" r="21"/>
<circle cx="1178.3" cy="2541.4" r="21"/>
<circle cx="1226.3" cy="2537.8" r="21"/>
<circle cx="1277.1" cy="2535" r="21"/>
<circle cx="1321.6" cy="2534.3" r="21"/>
<circle cx="1374.1" cy="2532.2" r="21"/>
<circle cx="1406" cy="2526.2" r="21"/>
<circle cx="1458.6" cy="2532.2" r="21"/>
<circle cx="1507.3" cy="2526.2" r="21"/>
<circle cx="1560.9" cy="2526.2" r="21"/>
<circle cx="1595.9" cy="2526.2" r="21"/>
<circle cx="1789.7" cy="2526" r="21"/>
<circle cx="1836.3" cy="2522.5" r="21"/>
<circle cx="1883" cy="2520.1" r="21"/>
<circle cx="1929.7" cy="2528.8" r="21"/>
<circle cx="1961.5" cy="2526" r="21"/>
<circle cx="1995.4" cy="2526" r="21"/>
</g>
<g class="mk">
<path d="M236.8 2648.3 L256.8 2668.3 L236.8 2688.3 L216.8 2668.3Z"/>
<path d="M274.6 2644.8 L294.6 2664.8 L274.6 2684.8 L254.6 2664.8Z"/>
<path d="M316.7 2642 L336.7 2662 L316.7 2682 L296.7 2662Z"/>
<path d="M373.4 2635.3 L393.4 2655.3 L373.4 2675.3 L353.4 2655.3Z"/>
<path d="M433 2622.7 L453 2642.7 L433 2662.7 L413 2642.7Z"/>
<path d="M491.5 2605.5 L511.5 2625.5 L491.5 2645.5 L471.5 2625.5Z"/>
<path d="M557.4 2581.7 L577.4 2601.7 L557.4 2621.7 L537.4 2601.7Z"/>
<path d="M617 2551.2 L637 2571.2 L617 2591.2 L597 2571.2Z"/>
<path d="M678.3 2517.6 L698.3 2537.6 L678.3 2557.6 L658.3 2537.6Z"/>
<path d="M727 2481.8 L747 2501.8 L727 2521.8 L707 2501.8Z"/>
<path d="M769 2448.5 L789 2468.5 L769 2488.5 L749 2468.5Z"/>
<path d="M817.5 2394.6 L837.5 2414.6 L817.5 2434.6 L797.5 2414.6Z"/>
<path d="M867.6 2343.1 L887.6 2363.1 L867.6 2383.1 L847.6 2363.1Z"/>
<path d="M937.4 2288.8 L957.4 2308.8 L937.4 2328.8 L917.4 2308.8Z"/>
<path d="M982.2 2259 L1002.2 2279 L982.2 2299 L962.2 2279Z"/>
<path d="M1056 2207 L1076 2227 L1056 2247 L1036 2227Z"/>
<path d="M1121.3 2174.4 L1141.3 2194.4 L1121.3 2214.4 L1101.3 2194.4Z"/>
<path d="M1184.4 2146.8 L1204.4 2166.8 L1184.4 2186.8 L1164.4 2166.8Z"/>
<path d="M1253.8 2122.9 L1273.8 2142.9 L1253.8 2162.9 L1233.8 2142.9Z"/>
<path d="M1319.3 2108.2 L1339.3 2128.2 L1319.3 2148.2 L1299.3 2128.2Z"/>
<path d="M1380.6 2099.1 L1400.6 2119.1 L1380.6 2139.1 L1360.6 2119.1Z"/>
<path d="M1440.9 2086.1 L1460.9 2106.1 L1440.9 2126.1 L1420.9 2106.1Z"/>
<path d="M1407.6 2086.1 L1427.6 2106.1 L1407.6 2126.1 L1387.6 2106.1Z"/>
<path d="M1509.5 2078.1 L1529.5 2098.1 L1509.5 2118.1 L1489.5 2098.1Z"/>
<path d="M1564.2 2071.3 L1584.2 2091.3 L1564.2 2111.3 L1544.2 2091.3Z"/>
<path d="M1591.9 2068.8 L1611.9 2088.8 L1591.9 2108.8 L1571.9 2088.8Z"/>
<path d="M1789.8 2059 L1809.8 2079 L1789.8 2099 L1769.8 2079Z"/>
<path d="M1843.1 2056.2 L1863.1 2076.2 L1843.1 2096.2 L1823.1 2076.2Z"/>
<path d="M1886.9 2053 L1906.9 2073 L1886.9 2093 L1866.9 2073Z"/>
<path d="M1937.7 2053 L1957.7 2073 L1937.7 2093 L1917.7 2073Z"/>
<path d="M1991 2053.7 L2011 2073.7 L1991 2093.7 L1971 2073.7Z"/>
<path d="M241 2532.3 L260.5 2565.7 L221.5 2565.7Z"/>
<path d="M293.9 2529.2 L313.4 2562.6 L274.4 2562.6Z"/>
<path d="M329.6 2529.2 L349.1 2562.6 L310.1 2562.6Z"/>
<path d="M365.7 2520 L385.2 2553.4 L346.2 2553.4Z"/>
<path d="M426.7 2504.6 L446.2 2538 L407.2 2538Z"/>
<path d="M481.7 2480.8 L501.2 2514.2 L462.2 2514.2Z"/>
<path d="M545.1 2457 L564.6 2490.4 L525.6 2490.4Z"/>
<path d="M593.2 2429.6 L612.7 2463 L573.7 2463Z"/>
<path d="M648.3 2390.1 L667.8 2423.5 L628.8 2423.5Z"/>
<path d="M705.4 2341.7 L724.9 2375.1 L685.9 2375.1Z"/>
<path d="M758 2287.4 L777.5 2320.8 L738.5 2320.8Z"/>
<path d="M806.7 2234.2 L826.2 2267.6 L787.2 2267.6Z"/>
<path d="M844.9 2179.2 L864.4 2212.6 L825.4 2212.6Z"/>
<path d="M878.2 2136.8 L897.7 2170.2 L858.7 2170.2Z"/>
<path d="M914 2095.2 L933.5 2128.6 L894.5 2128.6Z"/>
<path d="M956.4 2053.6 L975.9 2087 L936.9 2087Z"/>
<path d="M998.4 2010.5 L1017.9 2043.9 L978.9 2043.9Z"/>
<path d="M1034.2 1973.7 L1053.7 2007.1 L1014.7 2007.1Z"/>
<path d="M1078.7 1938 L1098.2 1971.4 L1059.2 1971.4Z"/>
<path d="M1123.5 1911.4 L1143 1944.8 L1104 1944.8Z"/>
<path d="M1159.3 1884.4 L1178.8 1917.8 L1139.8 1917.8Z"/>
<path d="M1209.4 1848.3 L1228.9 1881.7 L1189.9 1881.7Z"/>
<path d="M1256 1827.3 L1275.5 1860.7 L1236.5 1860.7Z"/>
<path d="M1309.2 1802.7 L1328.7 1836.1 L1289.7 1836.1Z"/>
<path d="M1359.3 1795.6 L1378.8 1829 L1339.8 1829Z"/>
<path d="M1405.9 1778 L1425.4 1811.4 L1386.4 1811.4Z"/>
<path d="M1462.6 1756.6 L1482.1 1790 L1443.1 1790Z"/>
<path d="M1507.5 1747.9 L1527 1781.3 L1488 1781.3Z"/>
<path d="M1572.3 1735.6 L1591.8 1769 L1552.8 1769Z"/>
<path d="M1636.1 1728.9 L1655.6 1762.3 L1616.6 1762.3Z"/>
<path d="M1699.1 1720.2 L1718.6 1753.6 L1679.6 1753.6Z"/>
<path d="M1756.4 1714.1 L1775.9 1747.5 L1736.9 1747.5Z"/>
<path d="M1807 1714.1 L1826.5 1747.5 L1787.5 1747.5Z"/>
<path d="M1859.7 1708.3 L1879.2 1741.7 L1840.2 1741.7Z"/>
<path d="M1908.5 1705 L1928 1738.4 L1889 1738.4Z"/>
<path d="M1950.5 1705 L1970 1738.4 L1931 1738.4Z"/>
<path d="M1992.8 1705 L2012.3 1738.4 L1973.3 1738.4Z"/>
</g>
<path class="ln" stroke-width="7.2" d="M238.5 2778.6 C243.12 2778.71 256.96 2779.12 266.24 2779.25 C275.52 2779.38 284.84 2779.41 294.18 2779.37 C303.52 2779.33 312.9 2779.2 322.28 2778.99 C331.67 2778.79 341.08 2778.5 350.5 2778.13 C359.91 2777.77 369.35 2777.33 378.78 2776.81 C388.21 2776.3 397.65 2775.71 407.08 2775.06 C416.51 2774.41 425.94 2773.68 435.36 2772.9 C444.77 2772.11 454.19 2771.25 463.57 2770.34 C472.96 2769.42 482.33 2768.46 491.67 2767.41 C501.01 2766.36 510.33 2765.26 519.61 2764.02 C528.89 2762.78 538.15 2761.46 547.35 2759.96 C556.56 2758.47 565.73 2756.87 574.85 2755.05 C583.96 2753.24 593.04 2751.28 602.05 2749.08 C611.06 2746.88 620.02 2744.49 628.91 2741.85 C637.8 2739.2 646.63 2736.3 655.4 2733.19 C664.16 2730.09 672.87 2726.73 681.51 2723.22 C690.16 2719.71 698.75 2715.98 707.29 2712.13 C715.82 2708.28 724.29 2704.24 732.73 2700.12 C741.17 2696 749.55 2691.72 757.92 2687.39 C766.28 2683.07 774.61 2678.62 782.93 2674.15 C791.25 2669.68 799.55 2665.11 807.86 2660.58 C816.18 2656.05 824.48 2651.45 832.81 2646.96 C841.14 2642.46 849.47 2637.96 857.86 2633.62 C866.24 2629.29 874.64 2625 883.1 2620.94 C891.56 2616.88 900.05 2612.96 908.62 2609.25 C917.18 2605.54 925.79 2602.02 934.46 2598.69 C943.14 2595.36 951.87 2592.22 960.65 2589.25 C969.44 2586.28 978.28 2583.5 987.17 2580.88 C996.06 2578.25 1005 2575.8 1013.99 2573.5 C1022.97 2571.19 1032.01 2569.05 1041.08 2567.05 C1050.15 2565.04 1059.26 2563.18 1068.41 2561.45 C1077.56 2559.71 1086.75 2558.12 1095.96 2556.63 C1105.18 2555.15 1114.43 2553.79 1123.71 2552.53 C1132.98 2551.27 1142.29 2550.13 1151.61 2549.07 C1160.94 2548.01 1170.29 2547.06 1179.65 2546.18 C1189.02 2545.3 1198.41 2544.52 1207.8 2543.79 C1217.2 2543.07 1226.62 2542.43 1236.04 2541.83 C1245.46 2541.24 1254.89 2540.72 1264.32 2540.24 C1273.75 2539.75 1283.2 2539.33 1292.63 2538.93 C1302.07 2538.53 1311.51 2538.17 1320.95 2537.83 C1330.38 2537.49 1339.81 2537.19 1349.23 2536.89 C1358.65 2536.59 1368.06 2536.3 1377.47 2536.03 C1386.87 2535.76 1396.27 2535.5 1405.66 2535.25 C1415.05 2535.01 1424.43 2534.77 1433.8 2534.55 C1443.18 2534.33 1452.55 2534.12 1461.91 2533.92 C1471.28 2533.72 1480.63 2533.53 1489.99 2533.35 C1499.34 2533.17 1508.69 2533.01 1518.04 2532.85 C1527.38 2532.69 1536.72 2532.54 1546.06 2532.41 C1555.4 2532.27 1564.73 2532.14 1574.07 2532.02 C1583.4 2531.9 1592.73 2531.79 1602.06 2531.69 C1611.39 2531.59 1620.72 2531.5 1630.05 2531.41 C1639.38 2531.33 1648.7 2531.25 1658.03 2531.18 C1667.36 2531.11 1676.69 2531.04 1686.02 2530.99 C1695.34 2530.93 1704.67 2530.88 1714.01 2530.84 C1723.34 2530.79 1732.67 2530.76 1742.01 2530.72 C1751.35 2530.69 1760.69 2530.67 1770.03 2530.65 C1779.38 2530.62 1788.72 2530.61 1798.07 2530.6 C1807.43 2530.58 1816.78 2530.58 1826.14 2530.57 C1835.51 2530.57 1844.87 2530.57 1854.24 2530.57 C1863.62 2530.58 1873 2530.58 1882.38 2530.59 C1891.77 2530.6 1901.16 2530.61 1910.56 2530.63 C1919.96 2530.64 1929.37 2530.66 1938.79 2530.68 C1948.21 2530.69 1957.63 2530.72 1967.07 2530.74 C1976.5 2530.76 1990.68 2530.79 1995.4 2530.8"/>
<path class="ln" stroke-width="8" stroke-dasharray="24.5 9.6 24.5 38.2" stroke-dashoffset="33.62" d="M236.8 2673 C241.55 2673.08 255.83 2673.72 265.32 2673.47 C274.8 2673.21 284.28 2672.48 293.72 2671.46 C303.16 2670.43 312.58 2668.99 321.95 2667.31 C331.33 2665.62 340.68 2663.58 349.98 2661.36 C359.28 2659.13 368.54 2656.6 377.75 2653.95 C386.95 2651.29 396.11 2648.4 405.21 2645.41 C414.3 2642.42 423.34 2639.28 432.31 2636 C441.28 2632.72 450.19 2629.3 459.02 2625.72 C467.84 2622.13 476.6 2618.4 485.27 2614.49 C493.94 2610.58 506.73 2604.29 511.03 2602.25"/>
<path class="ln" stroke-width="8" stroke-dasharray="24.51 9.6 24.51 38.21" stroke-dashoffset="29.31" d="M511.03 2602.25 C515.77 2599.73 530.13 2592.41 539.49 2587.13 C548.85 2581.85 558.09 2576.32 567.2 2570.58 C576.31 2564.85 589.65 2555.7 594.14 2552.73"/>
<path class="ln" stroke-width="8" stroke-dasharray="24.5 9.6 24.5 38.2" stroke-dashoffset="29.3" d="M594.14 2552.73 C598.5 2549.57 611.68 2540.25 620.27 2533.77 C628.85 2527.28 637.3 2520.6 645.64 2513.81 C653.97 2507.02 666.16 2496.48 670.27 2493.01"/>
<path class="ln" stroke-width="8" stroke-dasharray="24.69 9.68 24.69 38.5" stroke-dashoffset="29.53" d="M670.27 2493.01 C674.3 2489.39 686.5 2478.63 694.49 2471.31 C702.48 2463.98 710.35 2456.54 718.2 2449.06 C726.05 2441.58 737.67 2430.2 741.57 2426.43"/>
<path class="ln" stroke-width="8" stroke-dasharray="24.68 9.67 24.68 38.49" stroke-dashoffset="29.52" d="M741.57 2426.43 C745.42 2422.63 756.99 2411.24 764.7 2403.63 C772.4 2396.02 780.08 2388.38 787.81 2380.77 C795.54 2373.17 807.2 2361.8 811.08 2358.01"/>
<path class="ln" stroke-width="8" stroke-dasharray="24.06 9.43 24.06 37.51" stroke-dashoffset="28.77" d="M811.08 2358.01 C814.89 2354.36 826.28 2343.36 833.96 2336.12 C841.64 2328.87 849.37 2321.66 857.16 2314.53 C864.95 2307.4 876.78 2296.86 880.71 2293.33"/>
<path class="ln" stroke-width="8" stroke-dasharray="24.58 9.63 24.58 38.32" stroke-dashoffset="29.4" d="M880.71 2293.33 C884.79 2289.79 896.96 2279.08 905.2 2272.09 C913.43 2265.1 921.73 2258.2 930.1 2251.4 C938.47 2244.61 951.22 2234.69 955.44 2231.34"/>
<path class="ln" stroke-width="8" stroke-dasharray="25.15 9.85 25.15 39.21" stroke-dashoffset="30.08" d="M955.44 2231.34 C958.76 2228.85 968.64 2221.27 975.31 2216.35 C981.98 2211.43 988.7 2206.57 995.47 2201.81 C1002.24 2197.04 1009.06 2192.35 1015.93 2187.75 C1022.8 2183.16 1033.24 2176.48 1036.71 2174.23"/>
<path class="ln" stroke-width="8" stroke-dasharray="24.07 9.43 24.07 37.53" stroke-dashoffset="28.79" d="M1036.71 2174.23 C1041.22 2171.48 1054.66 2163.06 1063.78 2157.73 C1072.9 2152.4 1082.1 2147.22 1091.41 2142.22 C1100.72 2137.23 1114.94 2130.19 1119.64 2127.78"/>
<path class="ln" stroke-width="8" stroke-dasharray="24.49 9.6 24.49 38.19" stroke-dashoffset="29.29" d="M1119.64 2127.78 C1124.51 2125.53 1139.02 2118.6 1148.85 2114.28 C1158.68 2109.97 1168.61 2105.84 1178.62 2101.88 C1188.63 2097.91 1203.84 2092.4 1208.89 2090.5"/>
<path class="ln" stroke-width="8" stroke-dasharray="24.48 9.59 24.48 38.16" stroke-dashoffset="29.27" d="M1208.89 2090.5 C1213.96 2088.77 1229.13 2083.46 1239.35 2080.15 C1249.56 2076.85 1259.84 2073.7 1270.16 2070.68 C1280.49 2067.65 1296.09 2063.45 1301.27 2062"/>
<path class="ln" stroke-width="8" stroke-dasharray="24.54 9.61 24.54 38.26" stroke-dashoffset="29.34" d="M1301.27 2062 C1306.5 2060.68 1322.14 2056.6 1332.61 2054.07 C1343.08 2051.53 1353.6 2049.12 1364.11 2046.8 C1374.63 2044.47 1390.44 2041.24 1395.71 2040.13"/>
<path class="ln" stroke-width="8" stroke-dasharray="24.49 9.6 24.49 38.18" stroke-dashoffset="29.29" d="M1395.71 2040.13 C1400.99 2039.1 1416.85 2035.94 1427.43 2033.98 C1438.01 2032.02 1448.59 2030.14 1459.18 2028.35 C1469.77 2026.55 1485.67 2024.07 1490.96 2023.21"/>
<path class="ln" stroke-width="8" stroke-dasharray="24.58 9.63 24.58 38.33" stroke-dashoffset="29.4" d="M1490.96 2023.21 C1496.31 2022.43 1512.33 2020 1523.02 2018.52 C1533.72 2017.03 1544.41 2015.62 1555.12 2014.28 C1565.82 2012.94 1581.89 2011.12 1587.24 2010.49"/>
<path class="ln" stroke-width="8" stroke-dasharray="24.48 9.59 24.48 38.17" stroke-dashoffset="29.28" d="M1587.24 2010.49 C1592.59 2009.93 1608.62 2008.18 1619.31 2007.13 C1630.01 2006.08 1640.71 2005.1 1651.42 2004.17 C1662.13 2003.25 1678.2 2002.03 1683.56 2001.6"/>
<path class="ln" stroke-width="8" stroke-dasharray="24.62 9.65 24.62 38.39" stroke-dashoffset="29.44" d="M1683.56 2001.6 C1688.95 2001.23 1705.11 2000.06 1715.89 1999.37 C1726.68 1998.69 1737.47 1998.07 1748.26 1997.5 C1759.06 1996.92 1775.26 1996.2 1780.66 1995.94"/>
<path class="ln" stroke-width="8" stroke-dasharray="24.41 9.56 24.41 38.06" stroke-dashoffset="29.19" d="M1780.66 1995.94 C1786.01 1995.74 1802.06 1995.07 1812.76 1994.71 C1823.47 1994.34 1834.18 1994.03 1844.9 1993.76 C1855.61 1993.48 1871.7 1993.18 1877.06 1993.06"/>
<path class="ln" stroke-width="8" stroke-dasharray="24.5 9.6 24.5 38.2" stroke-dashoffset="29.3" d="M1877.06 1993.06 C1881.63 1993 1895.32 1992.77 1904.46 1992.66 C1913.6 1992.56 1922.74 1992.48 1931.88 1992.43 C1941.03 1992.38 1950.18 1992.35 1959.33 1992.34 C1968.48 1992.34 1982.22 1992.39 1986.8 1992.4"/>
<path class="ln" stroke-width="11" stroke-dasharray="0.01 18.74 0.01 18.74 0.01 18.74 0.01 18.74 0.01 18.74 0.01 3.94" stroke-dashoffset="6.43" d="M242.7 2499 C247.68 2498.73 262.67 2498.21 272.58 2497.4 C282.48 2496.59 292.34 2495.49 302.14 2494.14 C311.94 2492.79 326.49 2490.11 331.36 2489.3"/>
<path class="ln" stroke-width="11" stroke-dasharray="0.01 18.99 0.01 18.99 0.01 18.99 0.01 18.99 0.01 18.99 0.01 3.99" stroke-dashoffset="97" d="M331.36 2489.3 C335.39 2488.43 347.55 2485.98 355.58 2484.07 C363.61 2482.16 371.59 2480.07 379.53 2477.82 C387.46 2475.57 395.35 2473.15 403.18 2470.59 C411.02 2468.02 422.64 2463.78 426.53 2462.42"/>
<path class="ln" stroke-width="11" stroke-dasharray="0.01 18.78 0.01 18.78 0.01 18.78 0.01 18.78 0.01 18.78 0.01 3.95" stroke-dashoffset="95.91" d="M426.53 2462.42 C430.86 2460.71 443.92 2455.74 452.5 2452.14 C461.08 2448.53 469.6 2444.73 478.04 2440.78 C486.47 2436.82 494.84 2432.69 503.12 2428.4 C511.4 2424.12 519.61 2419.67 527.73 2415.08 C535.85 2410.49 543.9 2405.74 551.85 2400.86 C559.8 2395.98 567.67 2390.96 575.45 2385.82 C583.23 2380.68 594.67 2372.64 598.51 2370.01"/>
<path class="ln" stroke-width="11" stroke-dasharray="0.01 18.69 0.01 18.69 0.01 18.69 0.01 18.69 0.01 18.69 0.01 3.93" stroke-dashoffset="95.47" d="M598.51 2370.01 C602.87 2366.79 616.06 2357.3 624.66 2350.72 C633.26 2344.15 641.74 2337.42 650.12 2330.57 C658.5 2323.72 670.81 2313.12 674.95 2309.63"/>
<path class="ln" stroke-width="11" stroke-dasharray="0.01 18.84 0.01 18.84 0.01 18.84 0.01 18.84 0.01 18.84 0.01 3.96" stroke-dashoffset="96.23" d="M674.95 2309.63 C678.01 2306.92 687.23 2298.85 693.3 2293.38 C699.37 2287.9 705.38 2282.35 711.36 2276.76 C717.33 2271.17 723.26 2265.52 729.15 2259.82 C735.05 2254.13 743.79 2245.46 746.72 2242.59"/>
<path class="ln" stroke-width="11" stroke-dasharray="0.01 18.73 0.01 18.73 0.01 18.73 0.01 18.73 0.01 18.73 0.01 3.94" stroke-dashoffset="95.68" d="M746.72 2242.59 C750.53 2238.74 762.01 2227.23 769.61 2219.49 C777.21 2211.75 784.74 2203.94 792.3 2196.14 C799.86 2188.35 811.18 2176.64 814.96 2172.73"/>
<path class="ln" stroke-width="11" stroke-dasharray="0.01 18.87 0.01 18.87 0.01 18.87 0.01 18.87 0.01 18.87 0.01 3.97" stroke-dashoffset="96.36" d="M814.96 2172.73 C817.83 2169.8 826.4 2160.96 832.16 2155.12 C837.91 2149.27 843.68 2143.44 849.49 2137.66 C855.3 2131.88 861.14 2126.13 867.03 2120.44 C872.93 2114.76 881.88 2106.36 884.85 2103.54"/>
<path class="ln" stroke-width="11" stroke-dasharray="0.01 18.75 0.01 18.75 0.01 18.75 0.01 18.75 0.01 18.75 0.01 3.94" stroke-dashoffset="95.79" d="M884.85 2103.54 C888.88 2099.9 900.89 2088.85 909.06 2081.68 C917.23 2074.51 925.5 2067.46 933.86 2060.54 C942.22 2053.61 955 2043.53 959.23 2040.12"/>
<path class="ln" stroke-width="11" stroke-dasharray="0.01 19.14 0.01 19.14 0.01 19.14 0.01 19.14 0.01 19.14 0.01 4.02" stroke-dashoffset="97.78" d="M959.23 2040.12 C962.53 2037.6 972.4 2029.94 979.06 2024.96 C985.72 2019.98 992.44 2015.07 999.21 2010.24 C1005.97 2005.4 1012.79 2000.64 1019.66 1995.95 C1026.52 1991.26 1036.94 1984.42 1040.4 1982.11"/>
<path class="ln" stroke-width="11" stroke-dasharray="0.01 18.47 0.01 18.47 0.01 18.47 0.01 18.47 0.01 18.47 0.01 3.88" stroke-dashoffset="94.37" d="M1040.4 1982.11 C1044.27 1979.65 1055.84 1972.18 1063.64 1967.35 C1071.44 1962.52 1079.29 1957.78 1087.2 1953.13 C1095.11 1948.48 1103.08 1943.93 1111.09 1939.47 C1119.11 1935 1127.17 1930.64 1135.29 1926.36 C1143.4 1922.09 1151.57 1917.9 1159.78 1913.82 C1167.99 1909.73 1176.24 1905.74 1184.55 1901.84 C1192.85 1897.94 1205.41 1892.34 1209.58 1890.43"/>
<path class="ln" stroke-width="11" stroke-dasharray="0.01 18.88 0.01 18.88 0.01 18.88 0.01 18.88 0.01 18.88 0.01 3.97" stroke-dashoffset="96.44" d="M1209.58 1890.43 C1213.35 1888.82 1224.62 1883.88 1232.19 1880.72 C1239.76 1877.56 1247.36 1874.48 1254.99 1871.47 C1262.62 1868.47 1270.29 1865.54 1277.98 1862.69 C1285.67 1859.84 1297.28 1855.76 1301.14 1854.37"/>
<path class="ln" stroke-width="11" stroke-dasharray="0.01 18.71 0.01 18.71 0.01 18.71 0.01 18.71 0.01 18.71 0.01 3.93" stroke-dashoffset="95.55" d="M1301.14 1854.37 C1306.28 1852.66 1321.65 1847.4 1331.97 1844.11 C1342.29 1840.83 1352.66 1837.68 1363.07 1834.65 C1373.47 1831.62 1389.19 1827.39 1394.41 1825.93"/>
<path class="ln" stroke-width="11" stroke-dasharray="0.01 18.91 0.01 18.91 0.01 18.91 0.01 18.91 0.01 18.91 0.01 3.98" stroke-dashoffset="96.57" d="M1394.41 1825.93 C1398.38 1824.92 1410.28 1821.8 1418.25 1819.83 C1426.22 1817.86 1434.21 1815.97 1442.21 1814.13 C1450.22 1812.29 1458.25 1810.52 1466.29 1808.81 C1474.33 1807.1 1486.43 1804.69 1490.46 1803.86"/>
<path class="ln" stroke-width="11" stroke-dasharray="0.01 18.73 0.01 18.73 0.01 18.73 0.01 18.73 0.01 18.73 0.01 3.94" stroke-dashoffset="95.68" d="M1490.46 1803.86 C1495.79 1802.87 1511.75 1799.78 1522.43 1797.89 C1533.11 1796 1543.81 1794.21 1554.53 1792.5 C1565.26 1790.8 1581.39 1788.48 1586.76 1787.67"/>
<path class="ln" stroke-width="11" stroke-dasharray="0.01 19.01 0.01 19.01 0.01 19.01 0.01 19.01 0.01 19.01 0.01 4" stroke-dashoffset="97.12" d="M1586.76 1787.67 C1590.85 1787.12 1603.12 1785.41 1611.31 1784.35 C1619.5 1783.29 1627.7 1782.28 1635.9 1781.31 C1644.11 1780.35 1652.32 1779.43 1660.53 1778.55 C1668.75 1777.67 1681.09 1776.46 1685.2 1776.04"/>
<path class="ln" stroke-width="11" stroke-dasharray="0.01 18.52 0.01 18.52 0.01 18.52 0.01 18.52 0.01 18.52 0.01 3.89" stroke-dashoffset="94.6" d="M1685.2 1776.04 C1690.54 1775.56 1706.58 1774.05 1717.28 1773.15 C1727.97 1772.25 1738.67 1771.41 1749.37 1770.64 C1760.06 1769.86 1776.11 1768.83 1781.45 1768.47"/>
<path class="ln" stroke-width="11" stroke-dasharray="0.01 18.73 0.01 18.73 0.01 18.73 0.01 18.73 0.01 18.73 0.01 3.94" stroke-dashoffset="95.66" d="M1781.45 1768.47 C1786.88 1768.16 1803.17 1767.17 1814.01 1766.6 C1824.86 1766.02 1835.7 1765.5 1846.53 1765.02 C1857.35 1764.54 1873.56 1763.93 1878.97 1763.71"/>
<path class="ln" stroke-width="11" stroke-dasharray="0.01 18.74 0.01 18.74 0.01 18.74 0.01 18.74 0.01 18.74 0.01 3.94" stroke-dashoffset="95.72" d="M1878.97 1763.71 C1883.49 1763.55 1897.07 1763.07 1906.1 1762.78 C1915.13 1762.5 1924.15 1762.24 1933.16 1762 C1942.16 1761.77 1951.16 1761.55 1960.13 1761.35 C1969.1 1761.15 1982.52 1760.89 1987 1760.8"/>
<path class="ln" stroke-width="11" d="M1987 1760.8h0.01"/>
<g class="tk">
<text transform="translate(237.2 2888.5) scale(1 1.075)" text-anchor="middle">0</text>
<text transform="translate(471.3 2888.5) scale(1 1.075)" text-anchor="middle">2</text>
<text transform="translate(705.4 2888.5) scale(1 1.075)" text-anchor="middle">4</text>
<text transform="translate(939.5 2888.5) scale(1 1.075)" text-anchor="middle">6</text>
<text transform="translate(1173.6 2888.5) scale(1 1.075)" text-anchor="middle">8</text>
<text transform="translate(1407.7 2888.5) scale(1 1.075)" text-anchor="middle">10</text>
<text transform="translate(1641.8 2888.5) scale(1 1.075)" text-anchor="middle">12</text>
<text transform="translate(1875.9 2888.5) scale(1 1.075)" text-anchor="middle">14</text>
<text transform="translate(2110 2888.5) scale(1 1.075)" text-anchor="middle">16</text>
<text transform="translate(205 2819.8) scale(1 1.075)" text-anchor="end">0</text>
<text transform="translate(205 2611.5) scale(1 1.075)" text-anchor="end">10</text>
<text transform="translate(205 2403.2) scale(1 1.075)" text-anchor="end">20</text>
<text transform="translate(205 2194.9) scale(1 1.075)" text-anchor="end">30</text>
<text transform="translate(205 1986.6) scale(1 1.075)" text-anchor="end">40</text>
<text transform="translate(205 1778.3) scale(1 1.075)" text-anchor="end">50</text>
<text transform="translate(205 1570) scale(1 1.075)" text-anchor="end">60</text>
</g>
<text class="pl" x="299" y="1661">(b)</text>
<text class="ti" text-anchor="middle" transform="translate(96.1 2170.6) rotate(-90) scale(1 1.05)">Heave (mm)</text>
<text class="ti" text-anchor="middle" transform="translate(1408.7 2974.9) scale(1 1.05)">Distance (m)</text>
<g id="legend">
<rect x="532.1" y="3029.5" width="1237.7" height="546" fill="#fff" stroke="#303030" stroke-width="4.4" stroke-linejoin="round"/>
<g class="lg">
<text transform="translate(0 3116.2) scale(1 1.06)" xml:space="preserve"><tspan x="792.25" style="letter-spacing:1.15px">13 </tspan><tspan x="876.6" style="letter-spacing:0px">day </tspan><tspan x="996.1" style="letter-spacing:0px">- </tspan><tspan x="1031.6" style="letter-spacing:1.5px">Vu </tspan><tspan x="1125.15" style="letter-spacing:1.3px">and </tspan><tspan x="1250.5" style="letter-spacing:1.02px">Fredlund </tspan><tspan x="1526" style="letter-spacing:1.32px">(2006)</tspan></text>
<text transform="translate(0 3199.5) scale(1 1.06)" xml:space="preserve"><tspan x="791.35" style="letter-spacing:2.05px">53  </tspan><tspan x="893.1" style="letter-spacing:0.15px">day </tspan><tspan x="1013.4" style="letter-spacing:0px">- </tspan><tspan x="1049.7" style="letter-spacing:0.6px">Vu </tspan><tspan x="1142.15" style="letter-spacing:1.8px">and </tspan><tspan x="1267.9" style="letter-spacing:1.02px">Fredlund </tspan><tspan x="1543" style="letter-spacing:1.3px">(2006)</tspan></text>
<text transform="translate(0 3283.3) scale(1 1.06)" xml:space="preserve"><tspan x="792.45" style="letter-spacing:0.75px">175 </tspan><tspan x="909.5" style="letter-spacing:0.2px">day </tspan><tspan x="1030.1" style="letter-spacing:0px">- </tspan><tspan x="1066.2" style="letter-spacing:0.9px">Vu </tspan><tspan x="1159.35" style="letter-spacing:1.3px">and </tspan><tspan x="1284.5" style="letter-spacing:1.02px">Fredlund </tspan><tspan x="1560" style="letter-spacing:1.2px">(2006)</tspan></text>
<text transform="translate(0 3365.9) scale(1 1.06)" xml:space="preserve"><tspan x="792.25" style="letter-spacing:1.15px">13 </tspan><tspan x="876.6" style="letter-spacing:0px">day </tspan><tspan x="996.1" style="letter-spacing:0px">- </tspan><tspan x="1032.2" style="letter-spacing:1.34px">Current </tspan><tspan x="1267.5" style="letter-spacing:0.92px">study</tspan></text>
<text transform="translate(0 3450) scale(1 1.06)" xml:space="preserve"><tspan x="791.35" style="letter-spacing:2.05px">53 </tspan><tspan x="876.6" style="letter-spacing:0px">day </tspan><tspan x="996.1" style="letter-spacing:0px">- </tspan><tspan x="1032.2" style="letter-spacing:1.34px">Current </tspan><tspan x="1267.5" style="letter-spacing:0.92px">study</tspan></text>
<text transform="translate(0 3533) scale(1 1.06)" xml:space="preserve"><tspan x="792.45" style="letter-spacing:0.75px">175 </tspan><tspan x="909.5" style="letter-spacing:0.2px">day </tspan><tspan x="1030.1" style="letter-spacing:0px">- </tspan><tspan x="1066.6" style="letter-spacing:1.34px">Current </tspan><tspan x="1301" style="letter-spacing:0.73px">study</tspan></text>
</g>
<g fill="#000">
<circle cx="661.6" cy="3094.9" r="21.2"/>
<path d="M661.5 3157.9 L682.1 3178.5 L661.5 3199.1 L640.9 3178.5Z"/>
<path d="M661.5 3245.9 L681.2 3279.9 L641.8 3279.9Z"/>
</g>
<g class="ln">
<line x1="566.8" y1="3345" x2="757.1" y2="3345" stroke-width="8"/>
<line x1="566.8" y1="3429" x2="757.1" y2="3429" stroke-width="8" stroke-dasharray="24.4 37.8"/>
<line x1="568" y1="3512.3" x2="755" y2="3512.3" stroke-width="10.6" stroke-dasharray="0.01 18.65"/>
</g>
</g>
</svg></body></html>
